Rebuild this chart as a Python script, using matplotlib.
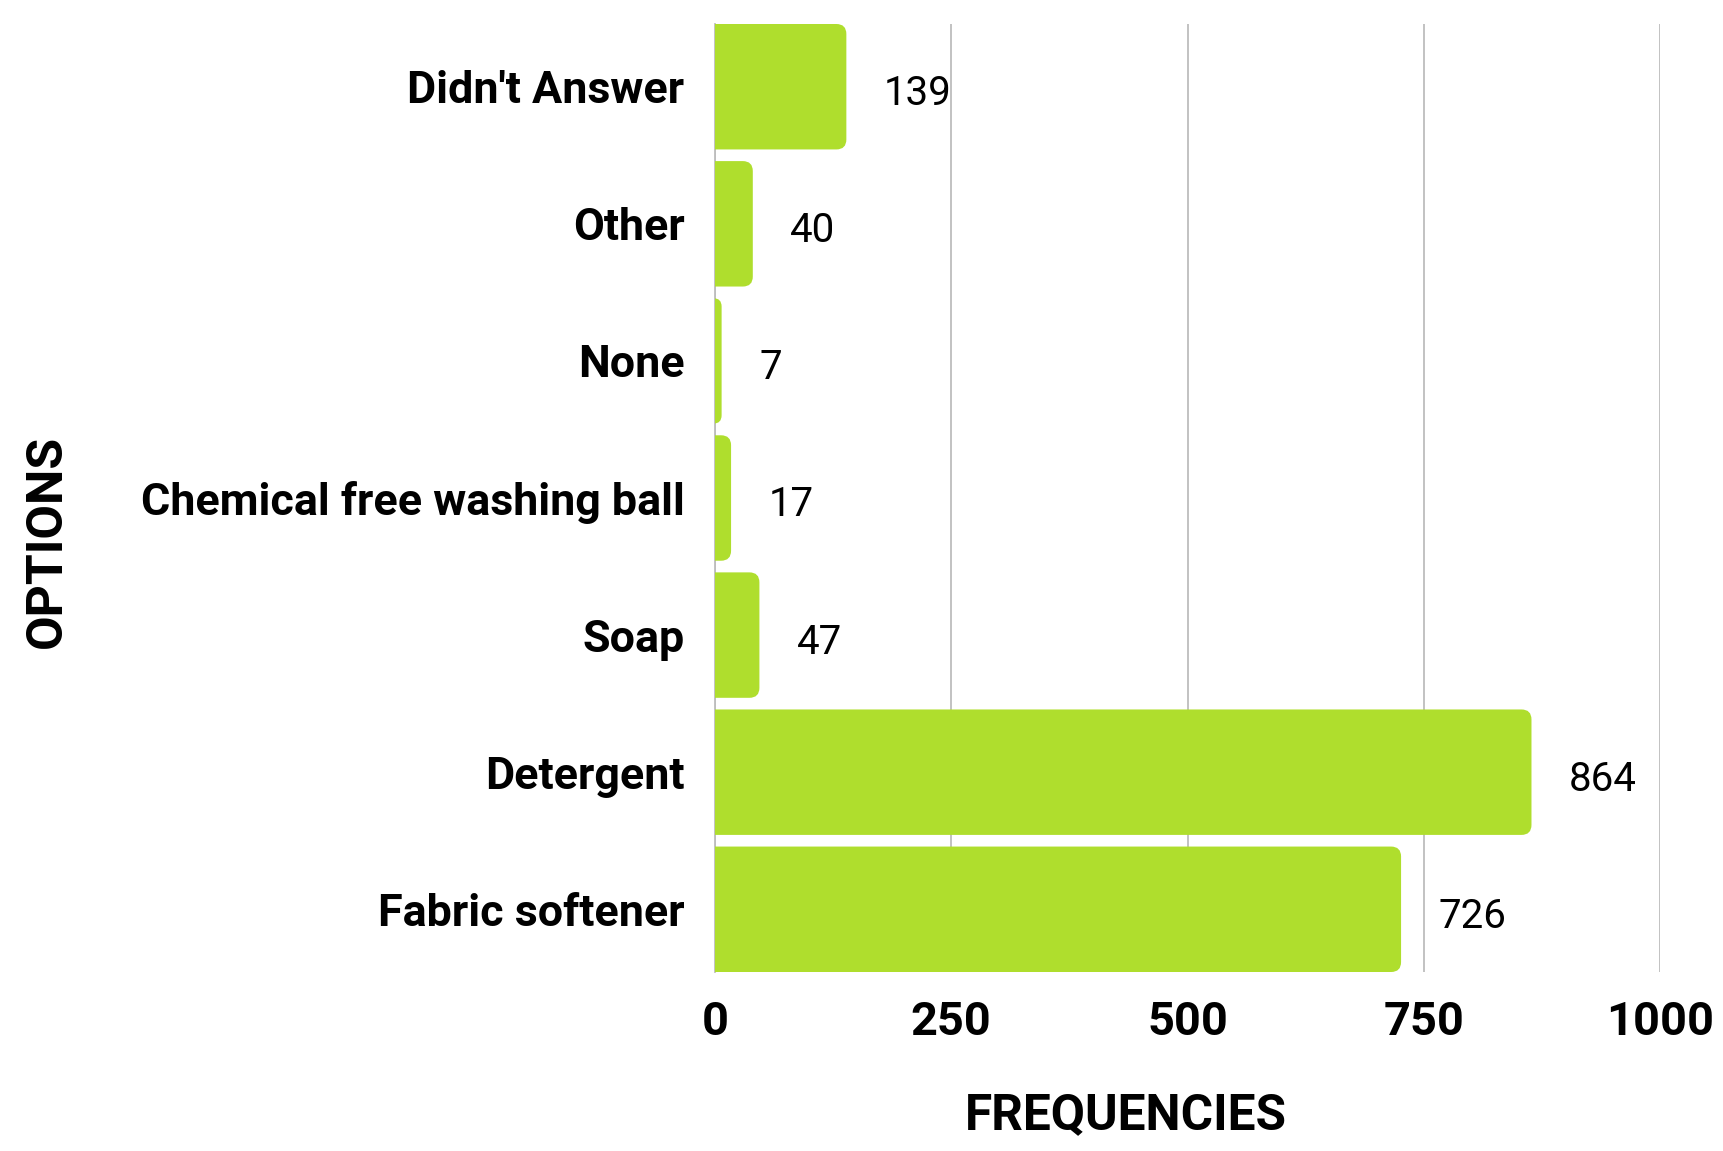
import matplotlib
matplotlib.use("Agg")
import matplotlib.pyplot as plt
from matplotlib.patches import FancyBboxPatch

categories = ["Didn't Answer", "Other", "None", "Chemical free washing ball",
              "Soap", "Detergent", "Fabric softener"]
values = [139, 40, 7, 17, 47, 864, 726]
xticks = [0, 250, 500, 750, 1000]
xtick_labels = ["0", "250", "500", "750", "1000"]

BAR_COLOR = "#AFDE2D"
GRID_COLOR = "#BDBDBD"
FONT = ["Roboto", "DejaVu Sans"]

W, H = 1724, 1151
fig = plt.figure(figsize=(W / 100, H / 100), dpi=100)
ax_l, ax_r, ax_t, ax_b = 715, 1660, 24, 972
ax = fig.add_axes([ax_l / W, 1 - ax_b / H, (ax_r - ax_l) / W, (ax_b - ax_t) / H])

bar_h = 0.915
ypos = list(range(len(categories)))
bars = ax.barh(ypos, values, height=bar_h, color=BAR_COLOR, zorder=3)
ax.set_xlim(0, 1000)
ax.set_ylim(len(categories) - 1 + bar_h / 2, -bar_h / 2)

# rounded right corners
ax_px_w = ax_r - ax_l
ax_px_h = ax_b - ax_t
x_per_px = 1000 / ax_px_w
y_per_px = (len(categories) - 1 + bar_h) / ax_px_h
r_px = 10
rx = r_px * x_per_px
aspect = y_per_px / x_per_px
for b in bars:
    x0, y0 = b.get_x(), b.get_y()
    w, h = b.get_width(), b.get_height()
    b.set_visible(False)
    width = w + rx
    rr = min(rx, width / 2)
    p = FancyBboxPatch((x0 - rx, y0), width, h,
                       boxstyle=f"round,pad=0,rounding_size={rr}",
                       mutation_aspect=aspect, facecolor=BAR_COLOR,
                       edgecolor="none", zorder=3, clip_on=True)
    ax.add_patch(p)

# grid
ax.set_xticks(xticks)
ax.set_xticklabels(xtick_labels, fontsize=33.8, fontweight="bold", family=FONT)
ax.grid(axis="x", color=GRID_COLOR, linewidth=1.3, zorder=0)
ax.tick_params(axis="both", length=0)
ax.tick_params(axis="x", pad=20)
ax.tick_params(axis="y", pad=22)
ax.set_yticks(ypos)
ax.set_yticklabels(categories, fontsize=32.3, fontweight="bold", family=FONT)
for s in ["top", "right", "bottom"]:
    ax.spines[s].set_visible(False)
ax.spines["left"].set_color(GRID_COLOR)
ax.spines["left"].set_linewidth(1.3)

# value labels
for y, v in zip(ypos, values):
    ax.annotate(str(v), (v, y), xytext=(27, -5), textcoords="offset points",
                ha="left", va="center", fontsize=29, family=FONT, color="black")

ax.set_xlabel("FREQUENCIES", fontsize=35.7, fontweight="bold", family=FONT,
              va="center")
ax.xaxis.set_label_coords((1126 - ax_l) / ax_px_w, (ax_b - 1116) / ax_px_h)
ax.set_ylabel("OPTIONS", fontsize=36, fontweight="bold", family=FONT,
              va="center")
ax.yaxis.set_label_coords((47 - ax_l) / ax_px_w, (ax_b - 541) / ax_px_h)

fig.savefig("out.png", dpi=100, facecolor="white")
